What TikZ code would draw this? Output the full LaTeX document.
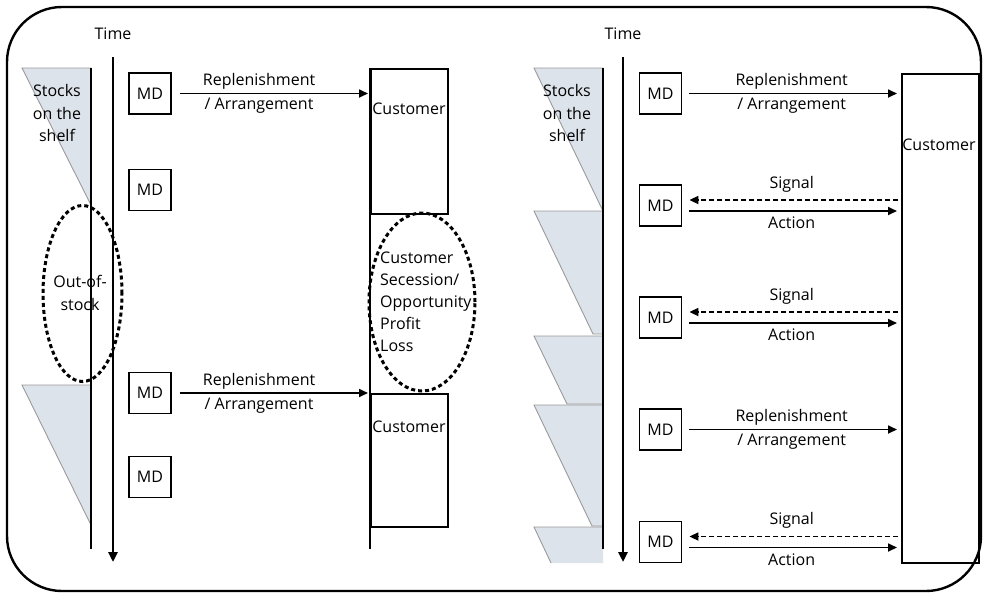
\documentclass[tikz,border=0pt]{standalone}
\usepackage{fontspec}
\setmainfont{Open Sans}
\usetikzlibrary{shapes.geometric,calc,arrows.meta}
\definecolor{shelfc}{HTML}{DDE3EB}
\definecolor{shelfe}{HTML}{9A9A9A}
\begin{document}
\begin{tikzpicture}[x=1pt,y=-1pt,
  every node/.style={font=\fontsize{16}{22.5}\selectfont, inner sep=0pt},
  mdbox/.style={draw, line width=1.8pt, minimum width=42pt, minimum height=41pt},
  custbox/.style={draw, line width=1.8pt, anchor=north west, minimum width=77pt},
  arr/.style={line width=1.7pt, -{Triangle[length=9pt,width=8pt]}},
  timearr/.style={line width=2.6pt, -{Triangle[length=10pt,width=9pt]}},
  shelf/.style={fill=shelfc, draw=shelfe, line width=0.9pt},
  oval/.style={ellipse, draw, line width=3pt, dash pattern=on 4pt off 3pt},
  sig/.style={arr, dash pattern=on 5pt off 3pt},
  thin/.style={line width=1.7pt},
  rep/.style={align=center, font=\fontsize{16}{24}\selectfont}
]
\useasboundingbox (0,0) rectangle (985,595);
% frame
\draw[line width=2.4pt, rounded corners=55pt] (7,7) rectangle (981,591);

% ===== LEFT PANEL =====
\filldraw[shelf] (22,68) -- (91,68) -- (91,205) -- cycle;
\filldraw[shelf] (22,385) -- (91,385) -- (91,525) -- cycle;
\coordinate (shLt) at (91,68);
\coordinate (shLb) at (91,549);
\draw[thin] (shLt) -- (shLb);
\node[align=center] (stL) at (57,113) {Stocks\\on the\\shelf};

\node (timeL) at (113,34) {Time};
\coordinate (tLs) at (113,57);
\coordinate (tLe) at (113,562);
\draw[timearr] (tLs) -- (tLe);

\node[oval, minimum width=79pt, minimum height=176pt] (oos) at (82.5,293.5) {};
\node[align=center] (oost) at (80,293) {Out-of-\\stock};

\node[mdbox] (mdL1) at (150,93.5) {MD};
\node[mdbox] (mdL2) at (150,190) {MD};
\node[mdbox] (mdL3) at (150,393) {MD};
\node[mdbox] (mdL4) at (150,477) {MD};

\node[custbox, minimum height=145pt] (cL1) at (370,68) {};
\node[custbox, minimum height=133pt] (cL2) at (370,393) {};
\node (cL1t) at (409,109) {Customer};
\node (cL2t) at (409,427) {Customer};
\coordinate (cLb) at (370,549);
\draw[thin] (cL1.north west) -- (cLb);

\node[oval, minimum width=106pt, minimum height=178pt] (sec) at (422,302) {};
\node[align=left, anchor=west, font=\fontsize{16}{22}\selectfont] (sect) at (380,302) {Customer\\Secession/\\Opportunity\\Profit\\Loss};

\draw[arr, shorten <=8pt, shorten >=2pt] (mdL1.east) -- (mdL1.east -| cL1.west)
  node[rep, pos=0.44] {Replenishment\\/ Arrangement};
\draw[arr, shorten <=8pt, shorten >=2pt] (mdL3.east) -- (mdL3.east -| cL2.west)
  node[rep, pos=0.44] {Replenishment\\/ Arrangement};

% ===== RIGHT PANEL =====
\filldraw[shelf] (534,68) -- (603,68) -- (603,211) -- cycle;
\filldraw[shelf] (534,211) -- (603,211) -- (603,334) -- (593,334) -- cycle;
\filldraw[shelf] (534,336) -- (603,336) -- (603,404) -- (567,404) -- cycle;
\filldraw[shelf] (534,405) -- (603,405) -- (603,526) -- (592,526) -- cycle;
\fill[shelfc] (534,527) -- (603,527) -- (603,563) -- (551,563) -- cycle;
\draw[shelfe, line width=0.9pt] (551,563) -- (534,527) -- (603,527);
\coordinate (shRt) at (603,68);
\coordinate (shRb) at (603,549);
\draw[thin] (shRt) -- (shRb);
\node[align=center] (stR) at (567,113) {Stocks\\on the\\shelf};

\node (timeR) at (623,34) {Time};
\coordinate (tRs) at (623,57);
\coordinate (tRe) at (623,562);
\draw[timearr] (tRs) -- (tRe);

\node[custbox, minimum height=489pt] (custR) at (901,73) {};
\node (custRt) at (939,145) {Customer};

\node[mdbox] (mdR1) at (660.5,93.5) {MD};
\node[mdbox] (mdR2) at (660.5,205.5) {MD};
\node[mdbox] (mdR3) at (660.5,317.5) {MD};
\node[mdbox] (mdR4) at (660.5,429.5) {MD};
\node[mdbox] (mdR5) at (660.5,542) {MD};

\draw[arr, shorten <=7pt, shorten >=4pt] (mdR1.east) -- (mdR1.east -| custR.west)
  node[rep, midway] {Replenishment\\/ Arrangement};
\draw[arr, shorten <=7pt, shorten >=4pt] (mdR4.east) -- (mdR4.east -| custR.west)
  node[rep, midway] {Replenishment\\/ Arrangement};

\foreach \m in {mdR2,mdR3,mdR5}{
  \coordinate (s\m) at ($(\m.east)+(0,-5.5)$);
  \coordinate (a\m) at ($(\m.east)+(0,5.5)$);
  \draw[sig, shorten <=3pt, shorten >=7pt] (s\m -| custR.west) -- (s\m)
    node[midway, above=7pt] {Signal};
  \draw[arr, shorten <=7pt, shorten >=4pt] (a\m) -- (a\m -| custR.west)
    node[midway, below=5pt] {Action};
}
\end{tikzpicture}
\end{document}
